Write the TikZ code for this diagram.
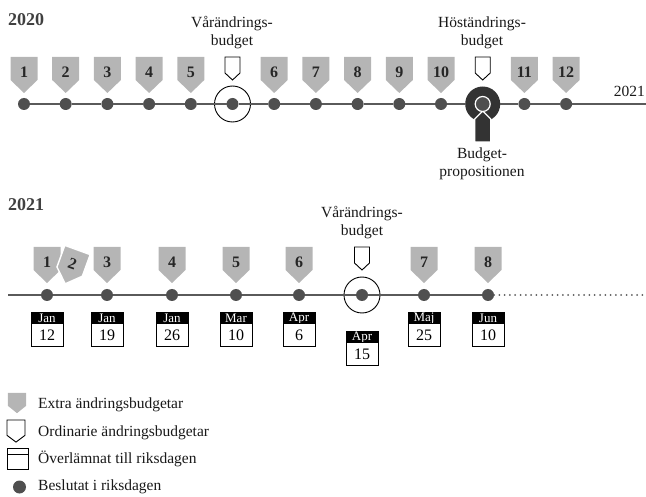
\documentclass[tikz,border=0pt]{standalone}
\usepackage{fontspec}
\setmainfont{Liberation Serif}
\usetikzlibrary{shapes}
\usepackage{xcolor}
\definecolor{markgray}{HTML}{B5B5B5}
\definecolor{dotgray}{HTML}{4F4F4F}
\definecolor{linegray}{HTML}{5A5A5A}
\definecolor{budgetdark}{HTML}{333333}

\begin{document}
\begin{tikzpicture}[x=1pt, y=-1pt,
    dot/.style = {circle, fill=dotgray, minimum size=#1,
                inner sep=0pt, outer sep=0pt},
    dot/.default = 12pt,  % size of the circle diameter
    num/.style = {font=\fontsize{16}{16}\selectfont\bfseries, text=black!85, inner sep=0pt},
    lbl/.style = {font=\fontsize{15.5}{18}\selectfont, align=center, inner sep=0pt, text=black!90},
    yr/.style = {font=\fontsize{18}{18}\selectfont\bfseries, text=black!75, anchor=west, inner sep=0pt},
    leg/.style = {font=\fontsize{15.5}{15.5}\selectfont, text=black!90, anchor=base west, inner sep=0pt},
    tl/.style = {draw=linegray, line width=2.6pt},
    ring/.style = {circle, draw, line width=0.9pt, minimum size=36pt, inner sep=0pt},
    mhead/.style = {fill=black, draw=black, line width=0.8pt, minimum width=32pt, minimum height=11.5pt,
                inner sep=0pt, anchor=north, text=white, font=\fontsize{13}{13}\selectfont},
    mbody/.style = {fill=white, draw=black, line width=0.8pt, minimum width=32pt, minimum height=23pt,
                inner sep=0pt, anchor=north, font=\fontsize{16}{16}\selectfont},
    xtra/.pic = {
        \path[fill=markgray, pic actions] (-13.5,0) -- (13.5,0) -- (13.5,23) -- (0,36) -- (-13.5,23) -- cycle;
        \node[num] (-n) at (0,15) {#1};
    },
    ordi/.pic = {
        \draw[fill=white, line width=0.9pt, pic actions] (-7.5,0) -- (7.5,0) -- (7.5,16) -- (0,23) -- (-7.5,16) -- cycle;
    },
    pics/datebox/.style 2 args = {code={
        \node[mhead] (-m) at (0,0) {#1};
        \node[mbody] (-d) at (0,11.5) {#2};
    }}
                    ]
    \useasboundingbox (0,0) rectangle (646,497);
    \def\ya{104}
    \def\yb{295}
    \def\ta{57}
    \def\tb{247}

    % 2020
    \node[yr] at (8,20) (y20) {2020};
    \node[lbl] at (232,33) (var1) {Vårändrings-\\budget};
    \node[lbl] at (482,33) (host) {Höständrings-\\budget};
    \node[lbl] at (482,164) (prop) {Budget-\\propositionen};
    \node[lbl, anchor=base east] at (645,97) (n21) {2021};

    \node[dot] at (24,\ya) (a1) {};
    \node[dot] at (65.7,\ya) (a2) {};
    \node[dot] at (107.4,\ya) (a3) {};
    \node[dot] at (149.1,\ya) (a4) {};
    \node[dot] at (190.8,\ya) (a5) {};
    \node[ring] at (232.5,\ya) (r1) {};
    \node[dot] at (232.5,\ya) (a6) {};
    \node[dot] at (274.2,\ya) (a7) {};
    \node[dot] at (315.9,\ya) (a8) {};
    \node[dot] at (357.6,\ya) (a9) {};
    \node[dot] at (399.3,\ya) (a10) {};
    \node[dot] at (441,\ya) (a11) {};
    \node[circle, fill=budgetdark, minimum size=35pt, inner sep=0pt, outer sep=0pt] at (482.7,\ya) (hb) {};
    \fill[budgetdark, draw=white, line width=1.2pt] (474.7,142) -- (474.7,119) -- (482.7,111) -- (490.7,119) -- (490.7,142) -- cycle;
    \node[dot=15pt, draw=white, line width=1.2pt] at (482.7,\ya) (a12) {};
    \node[dot] at (524.4,\ya) (a13) {};
    \node[dot] at (566.1,\ya) (a14) {};
    \coordinate (t1e) at (646,\ya);
    \draw[tl] (a1) -- (a2) (a2) -- (a3) (a3) -- (a4) (a4) -- (a5) (a5) -- (a6) (a6) -- (a7)
        (a7) -- (a8) (a8) -- (a9) (a9) -- (a10) (a10) -- (a11) (a11) -- (hb) (hb) -- (a13)
        (a13) -- (a14) (a14) -- (t1e);

    \pic (p1) at (24,\ta) {xtra=1};
    \pic (p2) at (65.7,\ta) {xtra=2};
    \pic (p3) at (107.4,\ta) {xtra=3};
    \pic (p4) at (149.1,\ta) {xtra=4};
    \pic (p5) at (190.8,\ta) {xtra=5};
    \pic (o1) at (232.5,\ta) {ordi};
    \pic (p6) at (274.2,\ta) {xtra=6};
    \pic (p7) at (315.9,\ta) {xtra=7};
    \pic (p8) at (357.6,\ta) {xtra=8};
    \pic (p9) at (399.3,\ta) {xtra=9};
    \pic (p10) at (441,\ta) {xtra=10};
    \pic (o2) at (482.7,\ta) {ordi};
    \pic (p11) at (524.4,\ta) {xtra=11};
    \pic (p12) at (566.1,\ta) {xtra=12};

    % 2021
    \node[yr] at (8,205) (y21) {2021};
    \node[lbl] at (362,223) (var2) {Vårändrings-\\budget};

    \coordinate (t2s) at (8,\yb);
    \node[dot] at (47,\yb) (b1) {};
    \node[dot] at (107,\yb) (b2) {};
    \node[dot] at (172,\yb) (b3) {};
    \node[dot] at (236,\yb) (b4) {};
    \node[dot] at (299,\yb) (b5) {};
    \node[ring] at (362,\yb) (r2) {};
    \node[dot] at (362,\yb) (b6) {};
    \node[dot] at (424,\yb) (b7) {};
    \node[dot] at (488,\yb) (b8) {};
    \coordinate (t2e) at (646,\yb);
    \draw[tl] (t2s) -- (b1) (b1) -- (b2) (b2) -- (b3) (b3) -- (b4) (b4) -- (b5) (b5) -- (b6)
        (b6) -- (b7) (b7) -- (b8);
    \draw[draw=linegray, line width=2pt, line cap=round, dash pattern=on 0pt off 5.3pt] (b8) -- (t2e);

    \pic (q1) at (47,\tb) {xtra=1};
    \pic[rotate=-20, transform shape, draw=white, line width=1.4pt] (q2) at (77.5,250) {xtra=2};
    \pic (q3) at (107,\tb) {xtra=3};
    \pic (q4) at (172,\tb) {xtra=4};
    \pic (q5) at (236,\tb) {xtra=5};
    \pic (q6) at (299,\tb) {xtra=6};
    \pic (o3) at (362,\tb) {ordi};
    \pic (q7) at (424,\tb) {xtra=7};
    \pic (q8) at (488,\tb) {xtra=8};

    \pic (c1) at (47,312) {datebox={Jan}{12}};
    \pic (c2) at (107,312) {datebox={Jan}{19}};
    \pic (c3) at (172,312) {datebox={Jan}{26}};
    \pic (c4) at (236,312) {datebox={Mar}{10}};
    \pic (c5) at (299,312) {datebox={Apr}{6}};
    \pic (c6) at (362,331) {datebox={Apr}{15}};
    \pic (c7) at (424,312) {datebox={Maj}{25}};
    \pic (c8) at (488,312) {datebox={Jun}{10}};

    % legend
    \pic[xscale=0.67, yscale=0.56] (l1) at (17,393) {xtra={}};
    \pic[xscale=1.2, yscale=0.96] (l2) at (16,420) {ordi};
    \draw[line width=0.9pt] (7,448) rectangle (28,469);
    \draw[line width=0.9pt] (7,454) -- (28,454);
    \node[dot=13pt] at (19.5,487) (l4) {};
    \node[leg] at (38,409) (t1) {Extra ändringsbudgetar};
    \node[leg] at (38,436) (t2) {Ordinarie ändringsbudgetar};
    \node[leg] at (38,463) (t3) {Överlämnat till riksdagen};
    \node[leg] at (38,490) (t4) {Beslutat i riksdagen};
\end{tikzpicture}
\end{document}
